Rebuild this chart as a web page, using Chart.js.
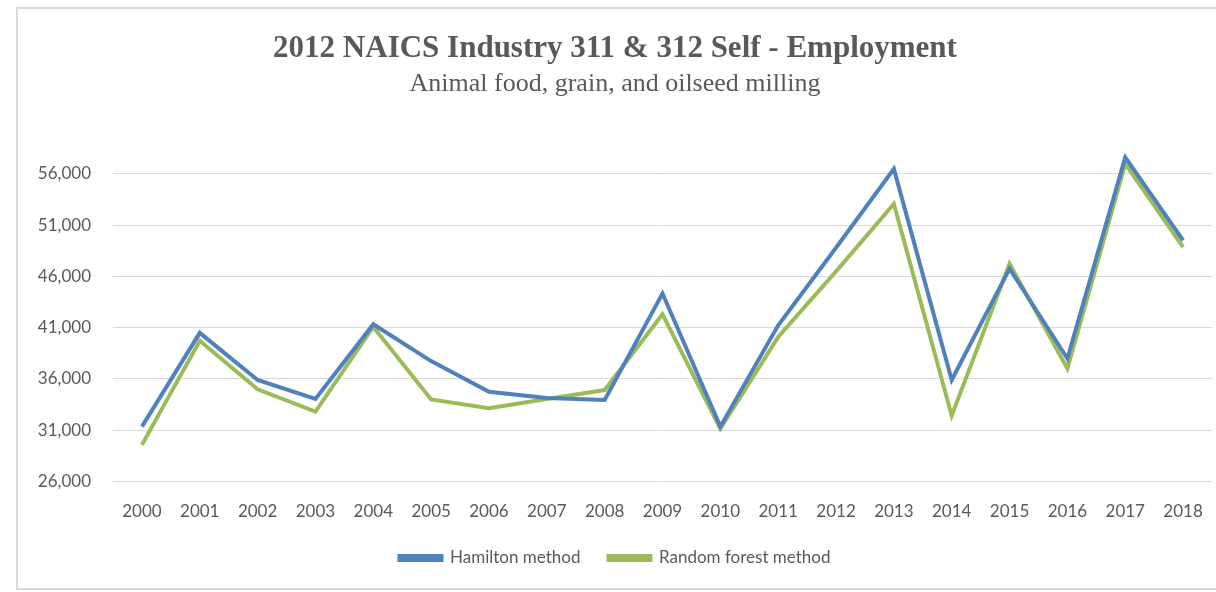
<!DOCTYPE html>
<html lang="en">
<head>
<meta charset="UTF-8">
<title>2012 NAICS Industry 311 &amp; 312 Self - Employment</title>
<script src="https://cdn.jsdelivr.net/npm/chart.js"></script>
<style>
    html, body {
        margin: 0;
        padding: 0;
        background: #fff;
        overflow: hidden;
    }
    .frame {
        position: absolute;
        left: 16px;
        top: 7px;
        width: 1220px;
        height: 579px;
        border: 2px solid #d9d9d9;
        background: #fff;
    }
    canvas {
        display: block;
    }
</style>
</head>
<body>
<div class="frame"><canvas id="selfEmpChart" width="1220" height="579"></canvas></div>
<script>
    // years on the category axis
    const years = ['2000', '2001', '2002', '2003', '2004', '2005', '2006', '2007', '2008', '2009',
                   '2010', '2011', '2012', '2013', '2014', '2015', '2016', '2017', '2018'];
    // self-employment estimates
    const hamilton = [31350, 40500, 35900, 34050, 41340, 37740, 34760, 34150, 33950, 44330,
                      31350, 41240, 48800, 56490, 35900, 46760, 38000, 57620, 49510];
    const randomForest = [29570, 39720, 34990, 32810, 41080, 34000, 33140, 34050, 34920, 42310,
                          31150, 40110, 46500, 53080, 32420, 47240, 37030, 56970, 48860];
    const yTicks = [26000, 31000, 36000, 41000, 46000, 51000, 56000];

    const textColor = '#595959';
    const gridColor = '#d9d9d9';

    const ctx = document.getElementById('selfEmpChart').getContext('2d');
    const chart = new Chart(ctx, {
        type: 'line',
        data: {
            labels: years,
            datasets: [{
                label: 'Hamilton method',
                data: hamilton,
                borderColor: '#4f81bd',
                backgroundColor: '#4f81bd',
                borderWidth: 4,
                pointRadius: 0,
                tension: 0
            }, {
                label: 'Random forest method',
                data: randomForest,
                borderColor: '#9bbb59',
                backgroundColor: '#9bbb59',
                borderWidth: 4,
                pointRadius: 0,
                tension: 0
            }]
        },
        options: {
            responsive: false,
            animation: false,
            devicePixelRatio: 1,
            layout: {
                padding: { left: 0, right: 26, top: 0, bottom: 11.5 }
            },
            plugins: {
                title: {
                    display: true,
                    text: '2012 NAICS Industry 311 & 312 Self - Employment',
                    color: textColor,
                    font: { family: 'Liberation Serif', size: 31, weight: 'bold' },
                    padding: { top: 21, bottom: 1 }
                },
                subtitle: {
                    display: true,
                    text: 'Animal food, grain, and oilseed milling',
                    color: textColor,
                    font: { family: 'Liberation Serif', size: 26 },
                    padding: { top: 0, bottom: 54 }
                },
                legend: {
                    position: 'bottom',
                    labels: {
                        boxWidth: 42,
                        boxHeight: 4,
                        color: textColor,
                        font: { family: 'Lato', size: 17 },
                        padding: 28
                    }
                },
                tooltip: { enabled: false }
            },
            scales: {
                x: {
                    offset: true,
                    afterFit: function (axis) {
                        axis.height = 40;
                    },
                    grid: { display: false },
                    border: { display: false },
                    ticks: {
                        color: textColor,
                        font: { family: 'Lato', size: 17 },
                        padding: 12,
                        maxRotation: 0,
                        autoSkip: false
                    }
                },
                y: {
                    min: 26000,
                    max: 58000,
                    afterBuildTicks: function (axis) {
                        axis.ticks = yTicks.map(v => ({ value: v }));
                    },
                    afterFit: function (axis) {
                        axis.width = 95;
                    },
                    grid: { color: gridColor, lineWidth: 1, drawTicks: false },
                    border: { display: false },
                    ticks: {
                        color: textColor,
                        font: { family: 'Lato', size: 17 },
                        padding: 22,
                        callback: v => v.toLocaleString('en-US')
                    }
                }
            }
        }
    });
</script>
</body>
</html>
